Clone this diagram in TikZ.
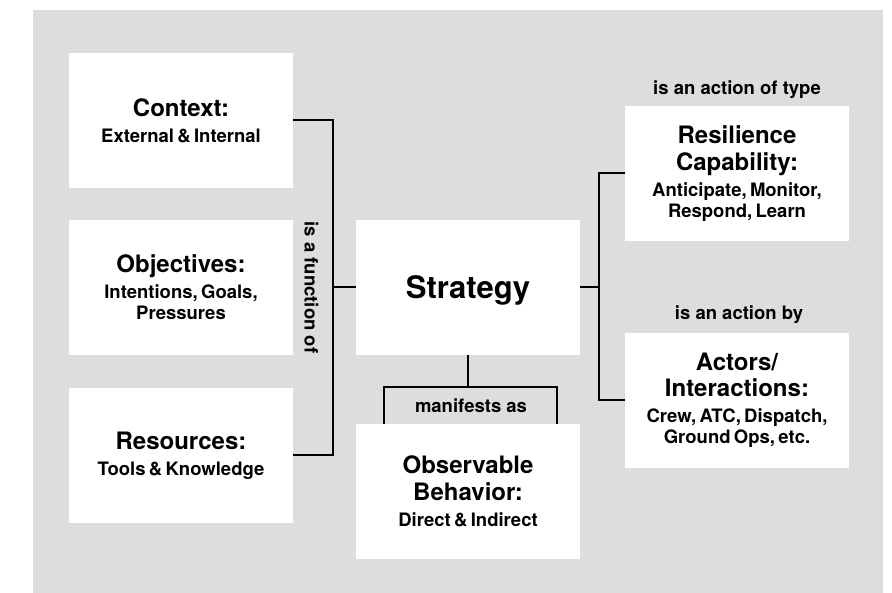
\documentclass[tikz,border=0pt]{standalone}
\usepackage{fontspec}
\setmainfont{TeX Gyre Heros}
\definecolor{bggray}{RGB}{221,221,221}
\tikzset{
  card/.style={fill=white, minimum width=224pt, minimum height=135pt, inner sep=0pt,
    text width=224pt, align=center, font=\bfseries},
  link/.style={draw=black, line width=2pt},
  lbl/.style={font=\bfseries\fontsize{18.5}{21}\selectfont, inner sep=0pt}
}
\newcommand{\cardtext}[2]{{\fontsize{24}{26.7}\selectfont #1\par}\vspace{5pt}{\fontsize{18.5}{21}\selectfont #2\par}}
\begin{document}
\begin{tikzpicture}[x=1pt,y=-1pt]
\useasboundingbox (0,0) rectangle (892,593);
\fill[bggray] (33,10) rectangle (883,593);

\node[card] (ctx) at (181,120.5) {\cardtext{Context:}{External \& Internal}};
\node[card] (obj) at (181,287.5) {\cardtext{Objectives:}{Intentions, Goals,\\Pressures}};
\node[card] (res) at (181,455.3) {\cardtext{Resources:}{Tools \& Knowledge}};
\node[card, font=\bfseries\fontsize{31}{34}\selectfont, text depth=0pt] (str) at (468,287.5) {Strategy};
\node[card] (obs) at (468,491.3) {\cardtext{Observable\\Behavior:}{Direct \& Indirect}};
\node[card] (cap) at (737,173.3) {\cardtext{Resilience\\Capability:}{Anticipate, Monitor,\\Respond, Learn}};
\node[card] (act) at (737,400.3) {\cardtext{Actors/\\Interactions:}{Crew, ATC, Dispatch,\\Ground Ops, etc.}};

\node[lbl, rotate=-90] (fn) at (311.5,287.5) {is a function of};
\node[lbl, anchor=base] (t1) at (737,95) {is an action of type};
\node[lbl, anchor=base] (t2) at (739,320) {is an action by};
\node[lbl, anchor=base] (t3) at (471,412.7) {manifests as};

\coordinate (jl) at (333.3,287.5);
\coordinate (jr) at (599,287.5);
\coordinate (jb) at (468,387);
\coordinate (bl) at (384.3,387);
\coordinate (br) at (557.3,387);

\draw[link] (ctx.east) -| (jl) |- (res.east);
\draw[link] (jl) -- (str.west);
\draw[link] (cap.west) -| (jr) |- (act.west);
\draw[link] (str.east) -- (jr);
\draw[link] (str.south) -- (jb);
\draw[link] (bl |- obs.north) -- (bl) -- (br) -- (br |- obs.north);
\end{tikzpicture}
\end{document}
